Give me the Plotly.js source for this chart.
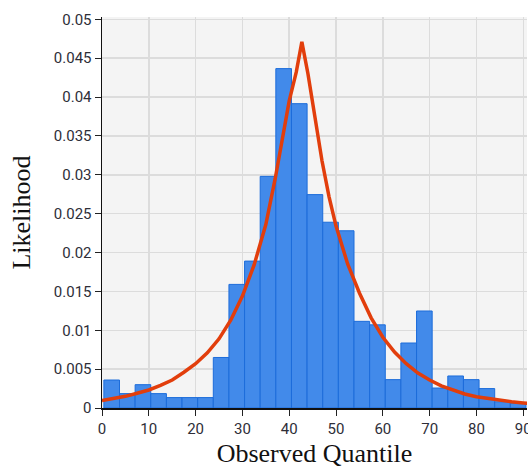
<!DOCTYPE html>
<html>
<head>
<meta charset="utf-8">
<script src="https://cdn.plot.ly/plotly-3.0.1.min.js"></script>
<style>html,body{margin:0;padding:0;background:#fff;}#chart{width:528px;height:468px;}</style>
</head>
<body>
<div id="chart"></div>
<script>
// Histogram bins (centers of observed-quantile bins) and likelihood heights
const binCenters = [2.07, 5.41, 8.75, 12.09, 15.43, 18.77, 22.11, 25.45, 28.79, 32.13,
  35.47, 38.81, 42.15, 45.49, 48.83, 52.17, 55.51, 58.85, 62.19, 65.53,
  68.87, 72.21, 75.55, 78.89, 82.23, 85.57, 88.91];
const binHeights = [0.0036, 0.00185, 0.0030, 0.00185, 0.00134, 0.00134, 0.00134, 0.0065, 0.0159, 0.0189,
  0.0298, 0.04366, 0.03915, 0.02745, 0.0239, 0.0228, 0.01115, 0.0107, 0.00365, 0.00836,
  0.01248, 0.00257, 0.00412, 0.00365, 0.0025, 0.0008, 0.0006];
const binWidth = 3.34;

// Fitted density curve
const curveX = [0, 2.5, 5, 7.5, 10, 12.5, 15, 17.5, 20, 22.5, 25, 27.5, 30, 32.5, 35, 37, 38.5, 40, 41.5, 42.7,
  44, 45.5, 47, 48.5, 50, 52.5, 55, 57.5, 60, 62.5, 65, 67.5, 70, 72.5, 75, 77.5, 80, 82.5, 85, 87.5, 90, 91];
const curveY = [0.00095, 0.00118, 0.0015, 0.0019, 0.00232, 0.0029, 0.0036, 0.0046, 0.0057, 0.0071, 0.0089, 0.0113, 0.0144, 0.0184, 0.0236, 0.0295, 0.0348, 0.0395, 0.0432, 0.0471,
  0.0430, 0.0375, 0.0318, 0.0272, 0.0234, 0.0185, 0.0148, 0.0116, 0.0091, 0.0072, 0.0057, 0.0045, 0.0036, 0.00285, 0.0023, 0.0018, 0.00145, 0.0012, 0.00098, 0.0008, 0.00065, 0.0006];

const yTickVals = [0, 0.005, 0.01, 0.015, 0.02, 0.025, 0.03, 0.035, 0.04, 0.045, 0.05];
const yTickText = ['0', '0.005', '0.01', '0.015', '0.02', '0.025', '0.03', '0.035', '0.04', '0.045', '0.05'];
const xTickVals = [0, 10, 20, 30, 40, 50, 60, 70, 80, 90];
const xTickText = ['0', '10', '20', '30', '40', '50', '60', '70', '80', '90'];

const traces = [
  {
    type: 'bar',
    x: binCenters,
    y: binHeights,
    width: binCenters.map(() => binWidth),
    marker: {color: 'rgb(66,138,234)', line: {color: 'rgb(28,108,218)', width: 1}},
    hoverinfo: 'skip'
  },
  {
    type: 'scatter',
    mode: 'lines',
    x: curveX,
    y: curveY,
    line: {color: 'rgb(226,62,12)', width: 3.5},
    hoverinfo: 'skip'
  }
];

const tickFont = {family: 'Roboto, sans-serif', size: 15, color: '#2e2e38'};
const titleFont = {family: '"Liberation Serif", "Times New Roman", serif', size: 26, color: '#111'};

const layout = {
  width: 528, height: 468,
  margin: {l: 102, r: 1, t: 17, b: 60, pad: 0},
  paper_bgcolor: '#ffffff',
  plot_bgcolor: '#f4f4f4',
  showlegend: false,
  bargap: 0,
  xaxis: {
    range: [0, 90.8],
    tickvals: xTickVals, ticktext: xTickText,
    ticks: 'outside', ticklen: 6, tickcolor: '#222', tickwidth: 1,
    ticklabeloverflow: 'allow',
    showline: true, linecolor: '#111', linewidth: 1.5,
    showgrid: true, gridcolor: '#dcdcdc', gridwidth: 1.5,
    zeroline: false,
    tickfont: tickFont,
    title: {text: 'Observed Quantile', font: titleFont, standoff: 8}
  },
  yaxis: {
    range: [0, 0.0503],
    tickvals: yTickVals, ticktext: yTickText,
    ticks: 'outside', ticklen: 6, tickcolor: '#222', tickwidth: 1,
    ticklabeloverflow: 'allow',
    showline: true, linecolor: '#111', linewidth: 1.5,
    showgrid: true, gridcolor: '#dcdcdc', gridwidth: 1.5,
    zeroline: false,
    tickfont: tickFont,
    title: {text: 'Likelihood', font: titleFont, standoff: 15}
  }
};

Plotly.newPlot('chart', traces, layout, {staticPlot: true, displayModeBar: false});
</script>
</body>
</html>
